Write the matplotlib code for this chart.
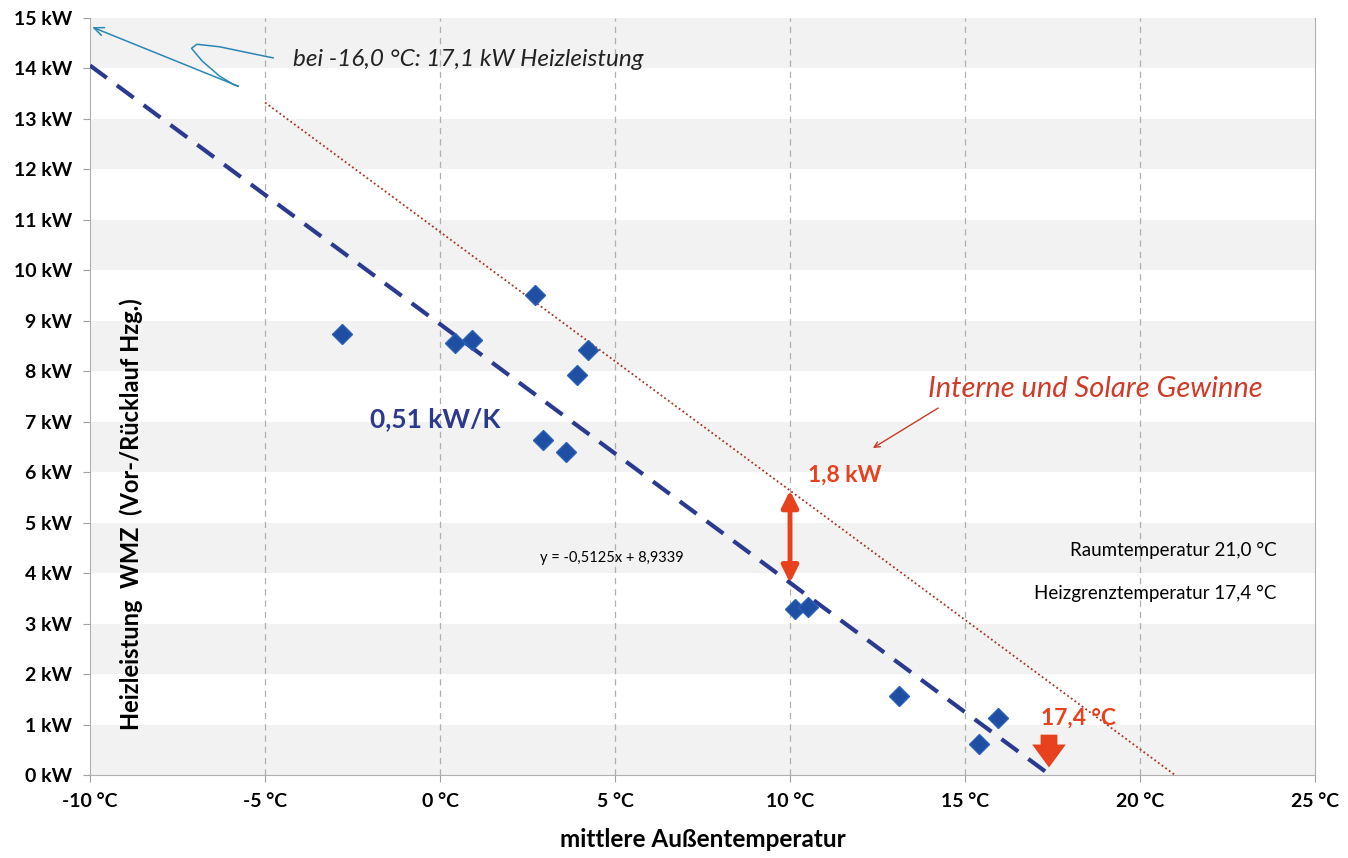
import numpy as np
import matplotlib
matplotlib.use("Agg")
import matplotlib.pyplot as plt

plt.rcParams["font.family"] = ["Lato", "DejaVu Sans"]

# ── data ───────────────────────────────────────────────────────────────────────
temp  = [-2.8, 0.43, 0.91, 2.71, 4.23, 3.91, 2.94, 3.60, 10.14, 10.51, 13.11, 15.40, 15.94]
power = [8.74, 8.56, 8.62, 9.51, 8.42, 7.93, 6.64, 6.40, 3.29, 3.33, 1.57, 0.61, 1.13]

SLOPE     = -0.5125
INTERCEPT = 8.9339
T_ROOM    = 21.0
T_LIMIT   = 17.4
GAIN_AT   = 10.0

x_ticks  = [-10, -5, 0, 5, 10, 15, 20, 25]
y_ticks  = list(range(0, 16))
x_labels = [f"{t} °C" for t in x_ticks]
y_labels = [f"{v} kW" for v in y_ticks]

BLUE  = "#1f4fa3"
NAVY  = "#2b3a8f"
RED   = "#e8411e"
DRED  = "#a8321e"
TEAL  = "#2a86b4"

fig = plt.figure(figsize=(13.48, 8.58), dpi=100)
ax = fig.add_axes([0.0668, 0.0967, 0.9087, 0.8823])

# alternating bands
for lo in range(0, 15, 2):
    ax.axhspan(lo, lo + 1, color="#f2f2f2", zorder=0, lw=0)
for t in x_ticks[1:-1]:
    ax.axvline(t, color="#b0b0b0", ls=(0, (5, 4)), lw=0.9, zorder=1)

# regression line
x_fit = np.array([-10, -INTERCEPT / SLOPE])
ax.plot(x_fit, SLOPE * x_fit + INTERCEPT, color=NAVY, lw=3, ls=(0, (5, 3)), zorder=3)

# gains line
x_g = np.array([-5, T_ROOM])
ax.plot(x_g, SLOPE * (x_g - T_ROOM), color=DRED, lw=1.3, ls=(0, (1, 1.5)), zorder=3)

ax.plot(temp, power, "D", color=BLUE, ms=10, mec="#2a5fb8", zorder=4, ls="none")

# 1,8 kW arrow
y_lo = SLOPE * GAIN_AT + INTERCEPT
y_hi = SLOPE * (GAIN_AT - T_ROOM)
ax.annotate("", xy=(GAIN_AT, y_hi), xytext=(GAIN_AT, y_lo),
            arrowprops=dict(arrowstyle="<|-|>,head_width=0.5,head_length=1.0",
                            color=RED, lw=3.5, shrinkA=0, shrinkB=0), zorder=5)
ax.text(10.5, 5.95, "1,8 kW", color=RED, fontsize=16.5, fontweight="bold",
        ha="left", va="center")

# heating limit arrow
ax.annotate("", xy=(T_LIMIT, 0.15), xytext=(T_LIMIT, 0.8),
            arrowprops=dict(arrowstyle="simple,head_width=1.1,head_length=0.75,tail_width=0.55",
                            color=RED, lw=0, mutation_scale=22, shrinkA=0, shrinkB=0), zorder=5)
ax.text(18.25, 1.12, "17,4 °C", color=RED, fontsize=16.5, fontweight="bold",
        ha="center", va="center")

ax.text(13.94, 7.65, "Interne und Solare Gewinne", color="#d23a28", fontsize=21,
        style="italic", ha="left", va="center")
ax.annotate("", xy=(12.3, 6.45), xytext=(14.3, 7.3),
            arrowprops=dict(arrowstyle="->", color="#c83a2a", lw=1))

ax.text(-2.0, 7.05, "0,51 kW/K", color=NAVY, fontsize=19, fontweight="bold",
        ha="left", va="center")
ax.text(2.85, 4.3, "y = -0,5125x + 8,9339", color="black", fontsize=10.5,
        ha="left", va="center")
ax.text(23.9, 4.44, f"Raumtemperatur {T_ROOM:.1f} °C".replace(".", ","),
        fontsize=13.5, ha="right", va="center")
ax.text(23.9, 3.6, f"Heizgrenztemperatur {T_LIMIT:.1f} °C".replace(".", ","),
        fontsize=13.5, ha="right", va="center")

# -16 °C note with zigzag pointer
zz_x = [-4.77, -5.4, -6.3, -6.95, -7.1, -6.8, -6.3, -5.9, -5.77]
zz_y = [14.21, 14.30, 14.43, 14.48, 14.40, 14.15, 13.85, 13.68, 13.65]
ax.plot(zz_x, zz_y, color=TEAL, lw=1.1, zorder=5)
ax.annotate("", xy=(-9.94, 14.82), xytext=(zz_x[-1], zz_y[-1]),
            arrowprops=dict(arrowstyle="->,head_width=0.3,head_length=0.7",
                            color=TEAL, lw=1.1, shrinkA=0, shrinkB=0))
ax.text(-4.2, 14.17, "bei -16,0 °C: 17,1 kW Heizleistung", fontsize=17.5,
        style="italic", ha="left", va="center", color="#222222")

# axes
ax.set_xlim(-10, 25)
ax.set_ylim(0, 15)
ax.set_xticks(x_ticks)
ax.set_xticklabels(x_labels, fontsize=14, fontweight="bold")
ax.set_yticks(y_ticks)
ax.set_yticklabels(y_labels, fontsize=14, fontweight="bold")
ax.tick_params(length=5, color="#a0a0a0", pad=8)
for s in ["left", "bottom", "right"]:
    ax.spines[s].set_color("#b0b0b0")
ax.spines["top"].set_visible(False)

ax.text(0.5, -0.085, "mittlere Außentemperatur", transform=ax.transAxes,
        fontsize=17.5, fontweight="bold", ha="center", va="center")
ax.text(0.034, 0.345, "Heizleistung  WMZ  (Vor-/Rücklauf Hzg.)", transform=ax.transAxes,
        fontsize=17, fontweight="bold", ha="center", va="center", rotation=90)

fig.savefig("out.png", dpi=100)
